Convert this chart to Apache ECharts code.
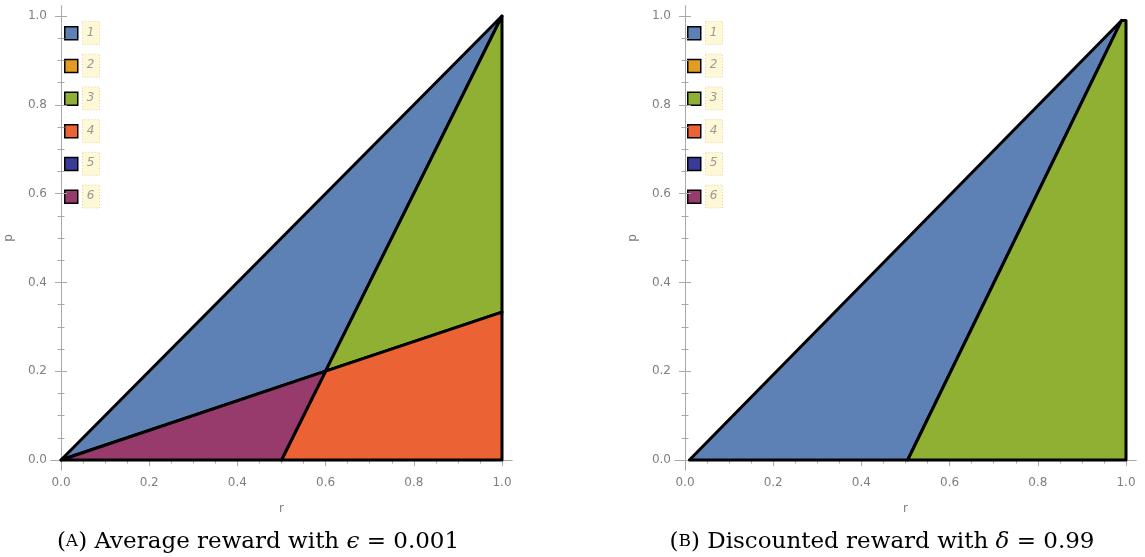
<!DOCTYPE html>
<html>
<head>
<meta charset="utf-8">
<script src="https://cdn.jsdelivr.net/npm/echarts@6/dist/echarts.min.js"></script>
<style>html,body{margin:0;padding:0;background:#fff;}#c{width:1145px;height:557px;}</style>
</head>
<body>
<div id="c"></div>
<script>
// ---- data ----
const legendNames = ['1', '2', '3', '4', '5', '6'];
const legendColors = ['#5E81B5', '#E19C24', '#8FB032', '#EB6235', '#3A3A98', '#963B6C'];
const majorTicks = [0, 0.2, 0.4, 0.6, 0.8, 1.0];
const minorTicks = [0.05, 0.1, 0.15, 0.25, 0.3, 0.35, 0.45, 0.5, 0.55, 0.65, 0.7, 0.75, 0.85, 0.9, 0.95];

// Panel A: average reward (region label, polygon vertices [r, p])
const regionsA = ['1', '3', '4', '6'];
const A_region1 = [[0, 0], [1, 1], [0.6, 0.2]];
const A_region3 = [[0.6, 0.2], [1, 1], [1, 0.333]];
const A_region4 = [[0.5, 0], [0.6, 0.2], [1, 0.333], [1, 0]];
const A_region6 = [[0, 0], [0.6, 0.2], [0.5, 0]];
const polysA = [A_region1, A_region3, A_region4, A_region6];

// Panel B: discounted reward
const regionsB = ['1', '3'];
const B_region1 = [[0.01, 0], [0.99, 0.99], [0.505, 0]];
const B_region3 = [[0.505, 0], [0.99, 0.99], [1, 0.99], [1, 0]];
const polysB = [B_region1, B_region3];

const captionA = ['(', 'A', ') Average reward with ', 'ϵ', ' = 0.001'];
const captionB = ['(', 'B', ') Discounted reward with ', 'δ', ' = 0.99'];

// ---- layout ----
const XMIN = -10 / 441, XMAX = 1 + 10 / 441;
const YMIN = -10 / 444, YMAX = 1 + 10 / 444;
const frameColor = '#a8a8a8';
const labelColor = '#7f7f7f';
const grids = [
  { left: 51, top: 6, width: 461, height: 464 },
  { left: 675, top: 6, width: 461, height: 464 }
];

const xAxes = [], yAxes = [];
function addAxes(gi) {
  const base = { type: 'value', gridIndex: gi, splitLine: { show: false } };
  xAxes.push(Object.assign({}, base, {
    position: 'bottom', min: XMIN, max: XMAX,
    name: 'r', nameLocation: 'middle', nameGap: 33,
    nameTextStyle: { color: labelColor, fontFamily: 'DejaVu Sans', fontSize: 12 },
    axisLine: { show: true, lineStyle: { color: frameColor, width: 1 } },
    axisTick: { show: true, inside: true, length: 6, customValues: majorTicks, lineStyle: { color: frameColor } },
    axisLabel: { show: true, customValues: majorTicks, margin: 7, color: labelColor, fontFamily: 'DejaVu Sans', fontSize: 12, formatter: v => v.toFixed(1) }
  }));
  xAxes.push(Object.assign({}, base, {
    position: 'bottom', min: XMIN, max: XMAX,
    axisLine: { show: false },
    axisTick: { show: true, inside: true, length: 3.5, customValues: minorTicks, lineStyle: { color: frameColor } },
    axisLabel: { show: false }
  }));
  xAxes.push(Object.assign({}, base, {
    position: 'top', min: XMIN, max: XMAX,
    axisLine: { show: true, lineStyle: { color: frameColor, width: 1 } },
    axisTick: { show: true, inside: true, length: 6, customValues: majorTicks, lineStyle: { color: frameColor } },
    axisLabel: { show: false }
  }));
  xAxes.push(Object.assign({}, base, {
    position: 'top', min: XMIN, max: XMAX,
    axisLine: { show: false },
    axisTick: { show: true, inside: true, length: 3.5, customValues: minorTicks, lineStyle: { color: frameColor } },
    axisLabel: { show: false }
  }));
  yAxes.push(Object.assign({}, base, {
    position: 'left', min: YMIN, max: YMAX,
    name: 'p', nameLocation: 'middle', nameGap: 36,
    nameTextStyle: { color: labelColor, fontFamily: 'DejaVu Sans', fontSize: 12 },
    axisLine: { show: true, lineStyle: { color: frameColor, width: 1 } },
    axisTick: { show: true, inside: true, length: 6, customValues: majorTicks, lineStyle: { color: frameColor } },
    axisLabel: { show: true, customValues: majorTicks, margin: 4, color: labelColor, fontFamily: 'DejaVu Sans', fontSize: 12, formatter: v => v.toFixed(1) }
  }));
  yAxes.push(Object.assign({}, base, {
    position: 'left', min: YMIN, max: YMAX,
    axisLine: { show: false },
    axisTick: { show: true, inside: true, length: 3.5, customValues: minorTicks, lineStyle: { color: frameColor } },
    axisLabel: { show: false }
  }));
  yAxes.push(Object.assign({}, base, {
    position: 'right', min: YMIN, max: YMAX,
    axisLine: { show: true, lineStyle: { color: frameColor, width: 1 } },
    axisTick: { show: true, inside: true, length: 6, customValues: majorTicks, lineStyle: { color: frameColor } },
    axisLabel: { show: false }
  }));
  yAxes.push(Object.assign({}, base, {
    position: 'right', min: YMIN, max: YMAX,
    axisLine: { show: false },
    axisTick: { show: true, inside: true, length: 3.5, customValues: minorTicks, lineStyle: { color: frameColor } },
    axisLabel: { show: false }
  }));
}
addAxes(0);
addAxes(1);

function polySeries(gi, names, polys) {
  return {
    type: 'custom',
    xAxisIndex: gi * 4, yAxisIndex: gi * 4,
    data: names.map((n, i) => ({ name: n, value: [polys[i][0][0], polys[i][0][1], i] })),
    encode: { x: 0, y: 1 },
    renderItem: function (params, api) {
      const idx = api.value(2);
      const pts = polys[idx].map(v => api.coord(v));
      const color = legendColors[legendNames.indexOf(names[idx])];
      return {
        type: 'polygon',
        shape: { points: pts },
        style: { fill: color, stroke: '#000', lineWidth: 3, lineJoin: 'round' }
      };
    },
    silent: true,
    animation: false
  };
}

// ---- legend + captions as graphics ----
const graphic = [];
const legendX = [64, 687];
legendX.forEach(lx => {
  legendNames.forEach((n, i) => {
    const cy = 32.5 + i * 32.7;
    graphic.push({ type: 'rect', left: lx, top: cy - 6.5, shape: { width: 13, height: 13 },
      style: { fill: legendColors[i], stroke: '#000', lineWidth: 1.5 } });
    graphic.push({ type: 'rect', left: lx + 18, top: cy - 11.5, shape: { width: 17, height: 23 },
      style: { fill: '#fff8d6', stroke: '#ddd2a0', lineWidth: 1, lineDash: [1, 2] } });
    graphic.push({ type: 'text', x: lx + 26.5, y: cy,
      style: { text: n, fill: '#999', font: 'italic 12px "DejaVu Sans"', align: 'center', verticalAlign: 'middle' } });
  });
});
function caption(parts, cx) {
  const rich = {
    p: { fontFamily: 'DejaVu Serif', fontSize: 23, color: '#000' },
    sc: { fontFamily: 'DejaVu Serif', fontSize: 17, color: '#000' },
    it: { fontFamily: 'DejaVu Serif', fontStyle: 'italic', fontSize: 23, color: '#000' }
  };
  const txt = '{p|' + parts[0] + '}{sc|' + parts[1] + '}{p|' + parts[2] + '}{it|' + parts[3] + '}{p|' + parts[4] + '}';
  return { type: 'text', x: cx, y: 542, style: { text: txt, rich: rich, align: 'center', verticalAlign: 'middle' } };
}
graphic.push(caption(captionA, 258));
graphic.push(caption(captionB, 882));

const chart = echarts.init(document.getElementById('c'), null, { renderer: 'canvas' });
chart.setOption({
  animation: false,
  grid: grids,
  xAxis: xAxes,
  yAxis: yAxes,
  series: [polySeries(0, regionsA, polysA), polySeries(1, regionsB, polysB)],
  graphic: graphic
});
</script>
</body>
</html>
